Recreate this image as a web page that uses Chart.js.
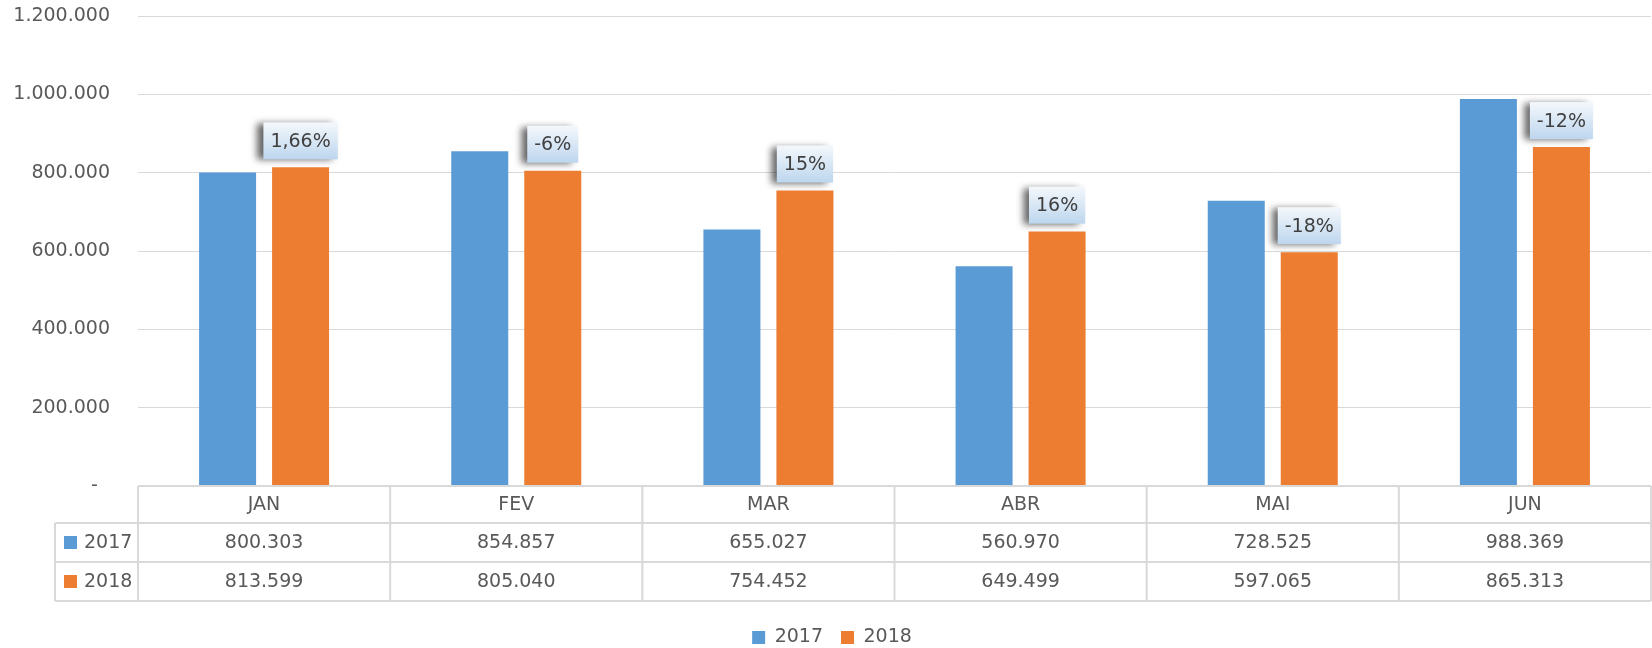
<!DOCTYPE html>
<html>
<head>
<meta charset="utf-8">
<script src="https://cdn.jsdelivr.net/npm/chart.js@4.4.1/dist/chart.umd.min.js"></script>
<style>
  html, body { margin: 0; background: #fff; }
  #wrap { width: 1652px; height: 648px; }
</style>
</head>
<body>
<div id="wrap"><canvas id="chart"></canvas></div>
<script>
const months = ['JAN', 'FEV', 'MAR', 'ABR', 'MAI', 'JUN'];
const series2017 = [800303, 854857, 655027, 560970, 728525, 988369];
const series2018 = [813599, 805040, 754452, 649499, 597065, 865313];
const changeLabels = ['1,66%', '-6%', '15%', '16%', '-18%', '-12%'];
const seriesNames = ['2017', '2018'];

const BLUE = '#5b9bd5', ORANGE = '#ed7d31', GREY = '#595959', LINE = '#d9d9d9';
const FONT = '"DejaVu Sans", sans-serif';

const fmt = (n) => String(n).replace(/\B(?=(\d{3})+(?!\d))/g, '.');

Chart.defaults.font.family = FONT;
Chart.defaults.font.size = 19;
Chart.defaults.color = GREY;

// data table under the plot, columns follow the x scale
const dataTable = {
  id: 'dataTable',
  afterDraw(chart) {
    const { ctx, chartArea: a, scales: { x } } = chart;
    const colW = (a.right - a.left) / months.length;
    const rows = [a.bottom, a.bottom + 37, a.bottom + 76, a.bottom + 115];
    const tableLeft = 55;
    ctx.save();
    ctx.strokeStyle = LINE;
    ctx.lineWidth = 2;
    ctx.beginPath();
    ctx.moveTo(a.left, rows[0]); ctx.lineTo(a.right, rows[0]);
    for (let r = 1; r < rows.length; r++) { ctx.moveTo(tableLeft, rows[r]); ctx.lineTo(a.right, rows[r]); }
    ctx.moveTo(tableLeft, rows[1]); ctx.lineTo(tableLeft, rows[3]);
    months.forEach((m, i) => {
      const px = x.getPixelForValue(i) - colW / 2;
      ctx.moveTo(px, rows[0]); ctx.lineTo(px, rows[3]);
    });
    ctx.moveTo(a.right, rows[0]); ctx.lineTo(a.right, rows[3]);
    ctx.stroke();

    ctx.font = '19px ' + FONT;
    ctx.fillStyle = GREY;
    ctx.textBaseline = 'middle';
    ctx.textAlign = 'center';
    const series = [series2017, series2018];
    months.forEach((m, i) => {
      const cx = x.getPixelForValue(i);
      ctx.fillText(m, cx, (rows[0] + rows[1]) / 2 + 1);
      series.forEach((s, k) => ctx.fillText(fmt(s[i]), cx, (rows[k + 1] + rows[k + 2]) / 2 + 1));
    });
    ctx.textAlign = 'left';
    [BLUE, ORANGE].forEach((c, k) => {
      const cy = (rows[k + 1] + rows[k + 2]) / 2;
      ctx.fillStyle = c;
      ctx.fillRect(tableLeft + 9, cy - 6.5, 13, 13);
      ctx.fillStyle = GREY;
      ctx.fillText(seriesNames[k], tableLeft + 29, cy + 1);
    });
    ctx.restore();
  }
};

// change boxes over the 2018 bars
const changeBoxes = {
  id: 'changeBoxes',
  afterDatasetsDraw(chart) {
    const { ctx } = chart;
    const meta = chart.getDatasetMeta(1);
    ctx.save();
    ctx.font = '19px ' + FONT;
    meta.data.forEach((bar, i) => {
      const text = changeLabels[i];
      const w = ctx.measureText(text).width + 14;
      const h = 37;
      const bx = bar.x - w / 2, by = bar.y - 8 - h;
      const g = ctx.createLinearGradient(0, by, 0, by + h);
      g.addColorStop(0, '#f4f8fc');
      g.addColorStop(1, '#bdd6ee');
      ctx.save();
      ctx.shadowColor = 'rgba(0,0,0,0.6)';
      ctx.shadowBlur = 7;
      ctx.shadowOffsetX = -6;
      ctx.shadowOffsetY = 1;
      ctx.fillStyle = g;
      ctx.fillRect(bx, by, w, h);
      ctx.restore();
      ctx.fillStyle = '#404040';
      ctx.textAlign = 'center';
      ctx.textBaseline = 'middle';
      ctx.fillText(text, bar.x, by + h / 2 + 1);
    });
    ctx.restore();
  }
};

new Chart(document.getElementById('chart'), {
  type: 'bar',
  data: {
    labels: months,
    datasets: [
      { label: seriesNames[0], data: series2017, backgroundColor: BLUE, borderWidth: 0 },
      { label: seriesNames[1], data: series2018, backgroundColor: ORANGE, borderWidth: 0 },
    ],
  },
  options: {
    responsive: true,
    maintainAspectRatio: false,
    devicePixelRatio: 1,
    animation: false,
    categoryPercentage: 0.579,
    barPercentage: 0.781,
    layout: { padding: { left: 13, right: 1, top: 16, bottom: -9 } },
    plugins: {
      tooltip: { enabled: false },
      legend: {
        position: 'bottom',
        labels: { boxWidth: 13, boxHeight: 13, padding: 18, color: GREY, font: { size: 19 } },
      },
    },
    scales: {
      x: {
        grid: { display: false },
        border: { display: false },
        ticks: { display: false },
        afterFit: (s) => { s.height = 124; },
      },
      y: {
        min: 0,
        max: 1200000,
        ticks: {
          stepSize: 200000,
          padding: 28,
          color: GREY,
          callback: (v) => (v === 0 ? '-  ' : fmt(v)),
        },
        grid: { color: LINE, lineWidth: 1, drawTicks: false },
        border: { display: false },
        afterFit: (s) => { s.width = 125; s.paddingTop = 0; s.paddingBottom = 0; },
      },
    },
  },
  plugins: [changeBoxes, dataTable],
});
</script>
</body>
</html>
